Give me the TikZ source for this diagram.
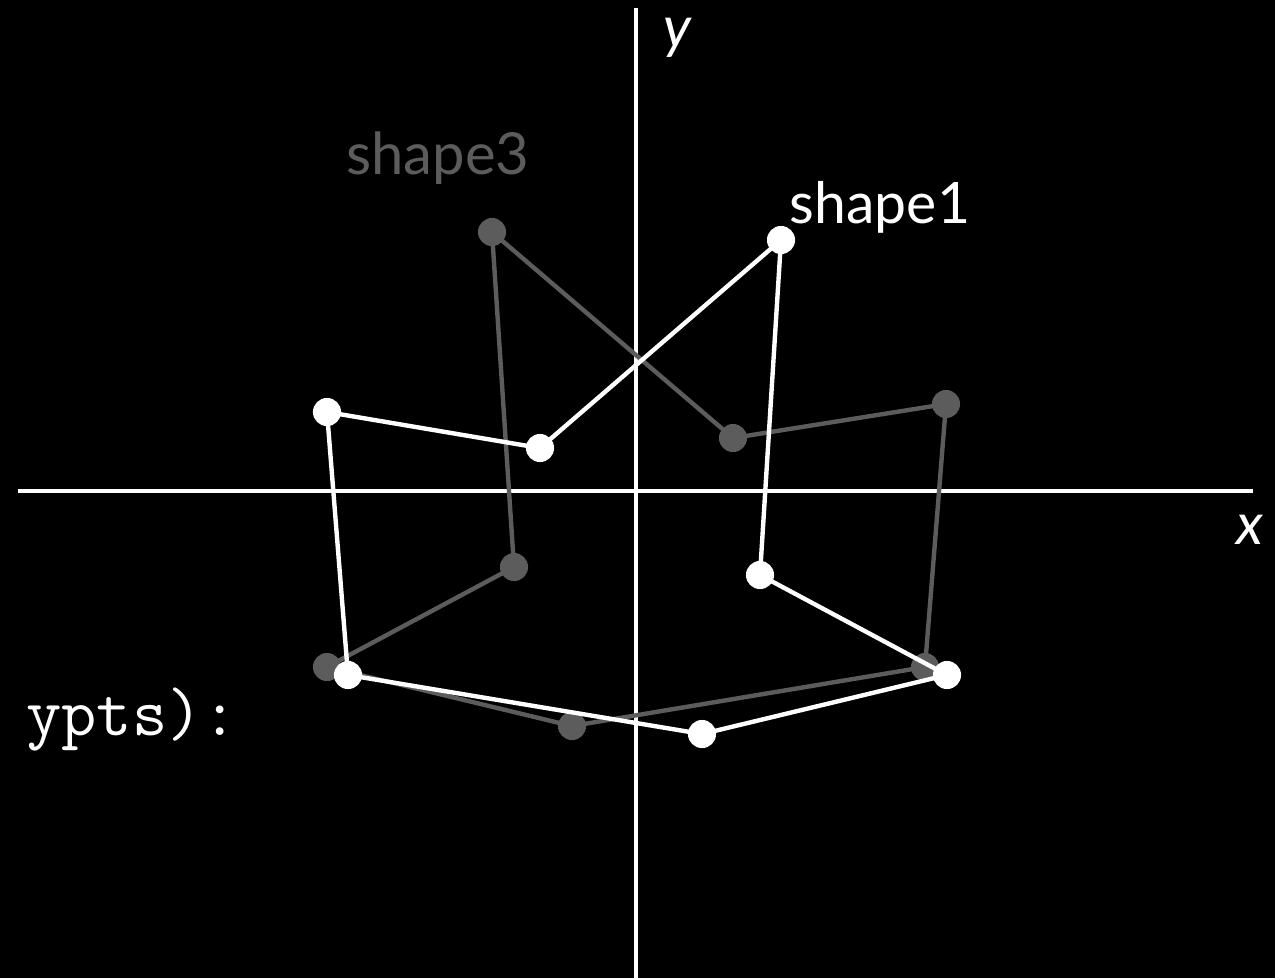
\documentclass[tikz,border=0pt]{standalone}
\usepackage{fontspec}
\setmainfont{Lato}
\usetikzlibrary{calc,positioning}
\definecolor{dim}{HTML}{5C5C5C}

\tikzset{
  axisline/.style={white,line width=2.3pt},
  edge/.style={line width=2.5pt,line join=round},
  dot/.style={circle,inner sep=0pt,minimum size=16pt}
}

\begin{document}
\begin{tikzpicture}[x=0.02cm,y=-0.02cm]
\fill[black] (0,0) rectangle (1275,978);
\useasboundingbox (0,0) rectangle (1275,978);

% axes
\coordinate (xl) at (18,491);
\coordinate (xr) at (1253,491);
\coordinate (yt) at (636,8);
\coordinate (yb) at (636,978);
\draw[axisline] (xl) -- (xr);
\draw[axisline] (yt) -- (yb);
\node[text=white,inner sep=0pt,font=\itshape\fontsize{33}{38}\selectfont] (xlab) at (1250,530) {x};
\node[text=white,inner sep=0pt,font=\itshape\fontsize{33}{38}\selectfont] (ylab) at (677,38) {y};

% shape3
\foreach \p/\q [count=\k] in {492/232, 733/438, 946/404, 925/667, 572/726, 327/667, 514/567}
  \coordinate (g\k) at (\p,\q);
\draw[edge,dim] (g1) -- (g2) -- (g3) -- (g4) -- (g5) -- (g6) -- (g7) -- cycle;
\foreach \k in {1,...,7}
  \node[dot,fill=dim] (gd\k) at (g\k) {};

% shape1
\foreach \p/\q [count=\k] in {781/240, 540/448, 327/412, 348/675, 702/734, 947/675, 760/575}
  \coordinate (w\k) at (\p,\q);
\draw[edge,white] (w1) -- (w2) -- (w3) -- (w4) -- (w5) -- (w6) -- (w7) -- cycle;
\foreach \k in {1,...,7}
  \node[dot,fill=white] (wd\k) at (w\k) {};

\node[text=dim,font=\fontsize{33}{38}\selectfont] (lab3) at (438,158) {shape3};
\node[text=white,font=\fontsize{32.5}{38}\selectfont] (lab1) at (880,207) {shape1};
\node[text=white,font=\ttfamily\fontsize{39}{44}\selectfont,anchor=base west,inner sep=0pt] (code) at (26,735) {ypts):};
\end{tikzpicture}
\end{document}
